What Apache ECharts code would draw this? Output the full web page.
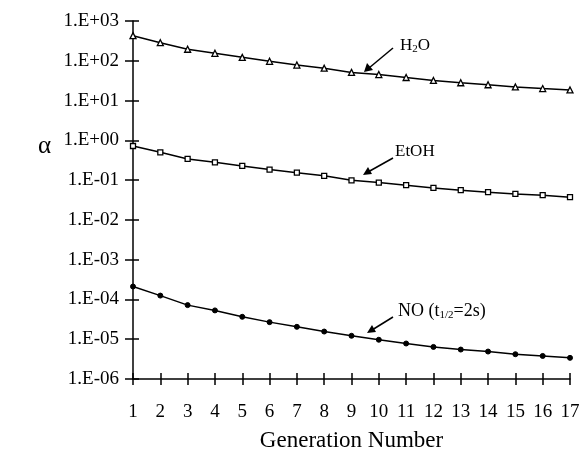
<!DOCTYPE html>
<html>
<head>
<meta charset="utf-8">
<script src="https://cdn.jsdelivr.net/npm/echarts@6/dist/echarts.min.js"></script>
<style>
  html, body { margin: 0; padding: 0; background: #fff; }
  #main { width: 582px; height: 451px; }
</style>
</head>
<body>
<div id="main"></div>
<script>
// generation numbers on the x axis
var generations = ['1','2','3','4','5','6','7','8','9','10','11','12','13','14','15','16','17'];

// alpha values
var h2oValues = [428, 285, 195, 154, 122, 97, 78, 65, 51, 45, 38, 32, 28, 25, 22, 20, 18.5];
var etohValues = [0.72, 0.50, 0.34, 0.28, 0.227, 0.184, 0.154, 0.128, 0.099, 0.0865, 0.0744, 0.0637, 0.0557, 0.0497, 0.045, 0.0418, 0.0372];
var noValues = [2.11e-4, 1.25e-4, 7.2e-5, 5.3e-5, 3.66e-5, 2.69e-5, 2.05e-5, 1.56e-5, 1.22e-5, 9.7e-6, 7.8e-6, 6.4e-6, 5.5e-6, 4.9e-6, 4.2e-6, 3.8e-6, 3.4e-6];

var serif = 'Liberation Serif';

var chart_dom = document.getElementById('main');
var chart = echarts.init(chart_dom, null, { renderer: 'canvas' });

function expLabel(v) {
  var e = Math.round(Math.log(v) / Math.LN10);
  var s = e < 0 ? '-' : '+';
  var a = Math.abs(e);
  return '1.E' + s + (a < 10 ? '0' + a : a);
}

var lineStyle = { color: '#000', width: 1.5 };

var option = {
  backgroundColor: '#fff',
  animation: false,
  grid: { left: 133, right: 12, top: 21, bottom: 72, containLabel: false, outerBoundsMode: 'none' },
  xAxis: [
    {
      type: 'category',
      data: generations,
      boundaryGap: false,
      axisLine: { lineStyle: { color: '#000', width: 1.5 } },
      axisTick: { show: true, inside: false, length: 6, alignWithLabel: true, lineStyle: { color: '#000', width: 1.5 } },
      axisLabel: { color: '#000', fontFamily: serif, fontSize: 19, margin: 24 },
      name: 'Generation Number',
      nameLocation: 'middle',
      nameGap: 50,
      nameTextStyle: { color: '#000', fontFamily: serif, fontSize: 23 },
      splitLine: { show: false }
    },
    {
      type: 'category',
      data: generations,
      boundaryGap: false,
      position: 'bottom',
      axisLine: { show: false },
      axisTick: { show: true, inside: true, length: 6, lineStyle: { color: '#000', width: 1.5 } },
      axisLabel: { show: false },
      splitLine: { show: false }
    }
  ],
  yAxis: [
    {
      type: 'log',
      logBase: 10,
      min: 1e-6,
      max: 1e3,
      interval: 1,
      axisLine: { show: true, lineStyle: { color: '#000', width: 1.5 } },
      axisTick: { show: true, inside: false, length: 8, lineStyle: { color: '#000', width: 1.5 } },
      axisLabel: { color: '#000', fontFamily: serif, fontSize: 19, margin: 14, formatter: expLabel },
      splitLine: { show: false }
    },
    {
      type: 'log',
      logBase: 10,
      min: 1e-6,
      max: 1e3,
      interval: 1,
      position: 'left',
      axisLine: { show: false },
      axisTick: { show: true, inside: true, length: 6, lineStyle: { color: '#000', width: 1.5 } },
      axisLabel: { show: false },
      splitLine: { show: false }
    }
  ],
  graphic: [
    { type: 'text', left: 38, top: 134, style: { text: 'α', font: '25px ' + serif, fill: '#000' } },
    // H2O label
    { type: 'text', left: 400, top: 37, style: { rich: { n: { fontFamily: serif, fontSize: 17, fill: '#000' }, s: { fontFamily: serif, fontSize: 11, fill: '#000', padding: [7, 0, 0, 0] } }, text: '{n|H}{s|2}{n|O}' } },
    { type: 'line', shape: { x1: 393, y1: 48, x2: 369, y2: 68 }, style: { stroke: '#000', lineWidth: 1.5 } },
    { type: 'polygon', shape: { points: [[364, 72], [367, 63], [373, 70]] }, style: { fill: '#000' } },
    // EtOH label
    { type: 'text', left: 395, top: 143, style: { text: 'EtOH', font: '17px ' + serif, fill: '#000' } },
    { type: 'line', shape: { x1: 393, y1: 158, x2: 368, y2: 172 }, style: { stroke: '#000', lineWidth: 1.5 } },
    { type: 'polygon', shape: { points: [[363, 175], [368, 167], [372, 174]] }, style: { fill: '#000' } },
    // NO label
    { type: 'text', left: 398, top: 302, style: { rich: { n: { fontFamily: serif, fontSize: 18, fill: '#000' }, s: { fontFamily: serif, fontSize: 11, fill: '#000', padding: [9, 0, 0, 0] } }, text: '{n|NO (t}{s|1/2}{n|=2s)}' } },
    { type: 'line', shape: { x1: 393, y1: 317, x2: 372, y2: 330 }, style: { stroke: '#000', lineWidth: 1.5 } },
    { type: 'polygon', shape: { points: [[367, 333], [372, 325], [376, 332]] }, style: { fill: '#000' } }
  ],
  series: [
    {
      name: 'H2O',
      type: 'line',
      data: h2oValues,
      symbol: 'triangle',
      symbolSize: 6,
      itemStyle: { color: '#fff', borderColor: '#000', borderWidth: 1.3 },
      lineStyle: lineStyle
    },
    {
      name: 'EtOH',
      type: 'line',
      data: etohValues,
      symbol: 'rect',
      symbolSize: 5,
      itemStyle: { color: '#fff', borderColor: '#000', borderWidth: 1.3 },
      lineStyle: lineStyle
    },
    {
      name: 'NO',
      type: 'line',
      data: noValues,
      symbol: 'circle',
      symbolSize: 5,
      itemStyle: { color: '#000', borderColor: '#000', borderWidth: 1 },
      lineStyle: lineStyle
    }
  ]
};

if (option && typeof option === 'object') {
  chart.setOption(option);
}

window.addEventListener('resize', chart.resize);
</script>
</body>
</html>
